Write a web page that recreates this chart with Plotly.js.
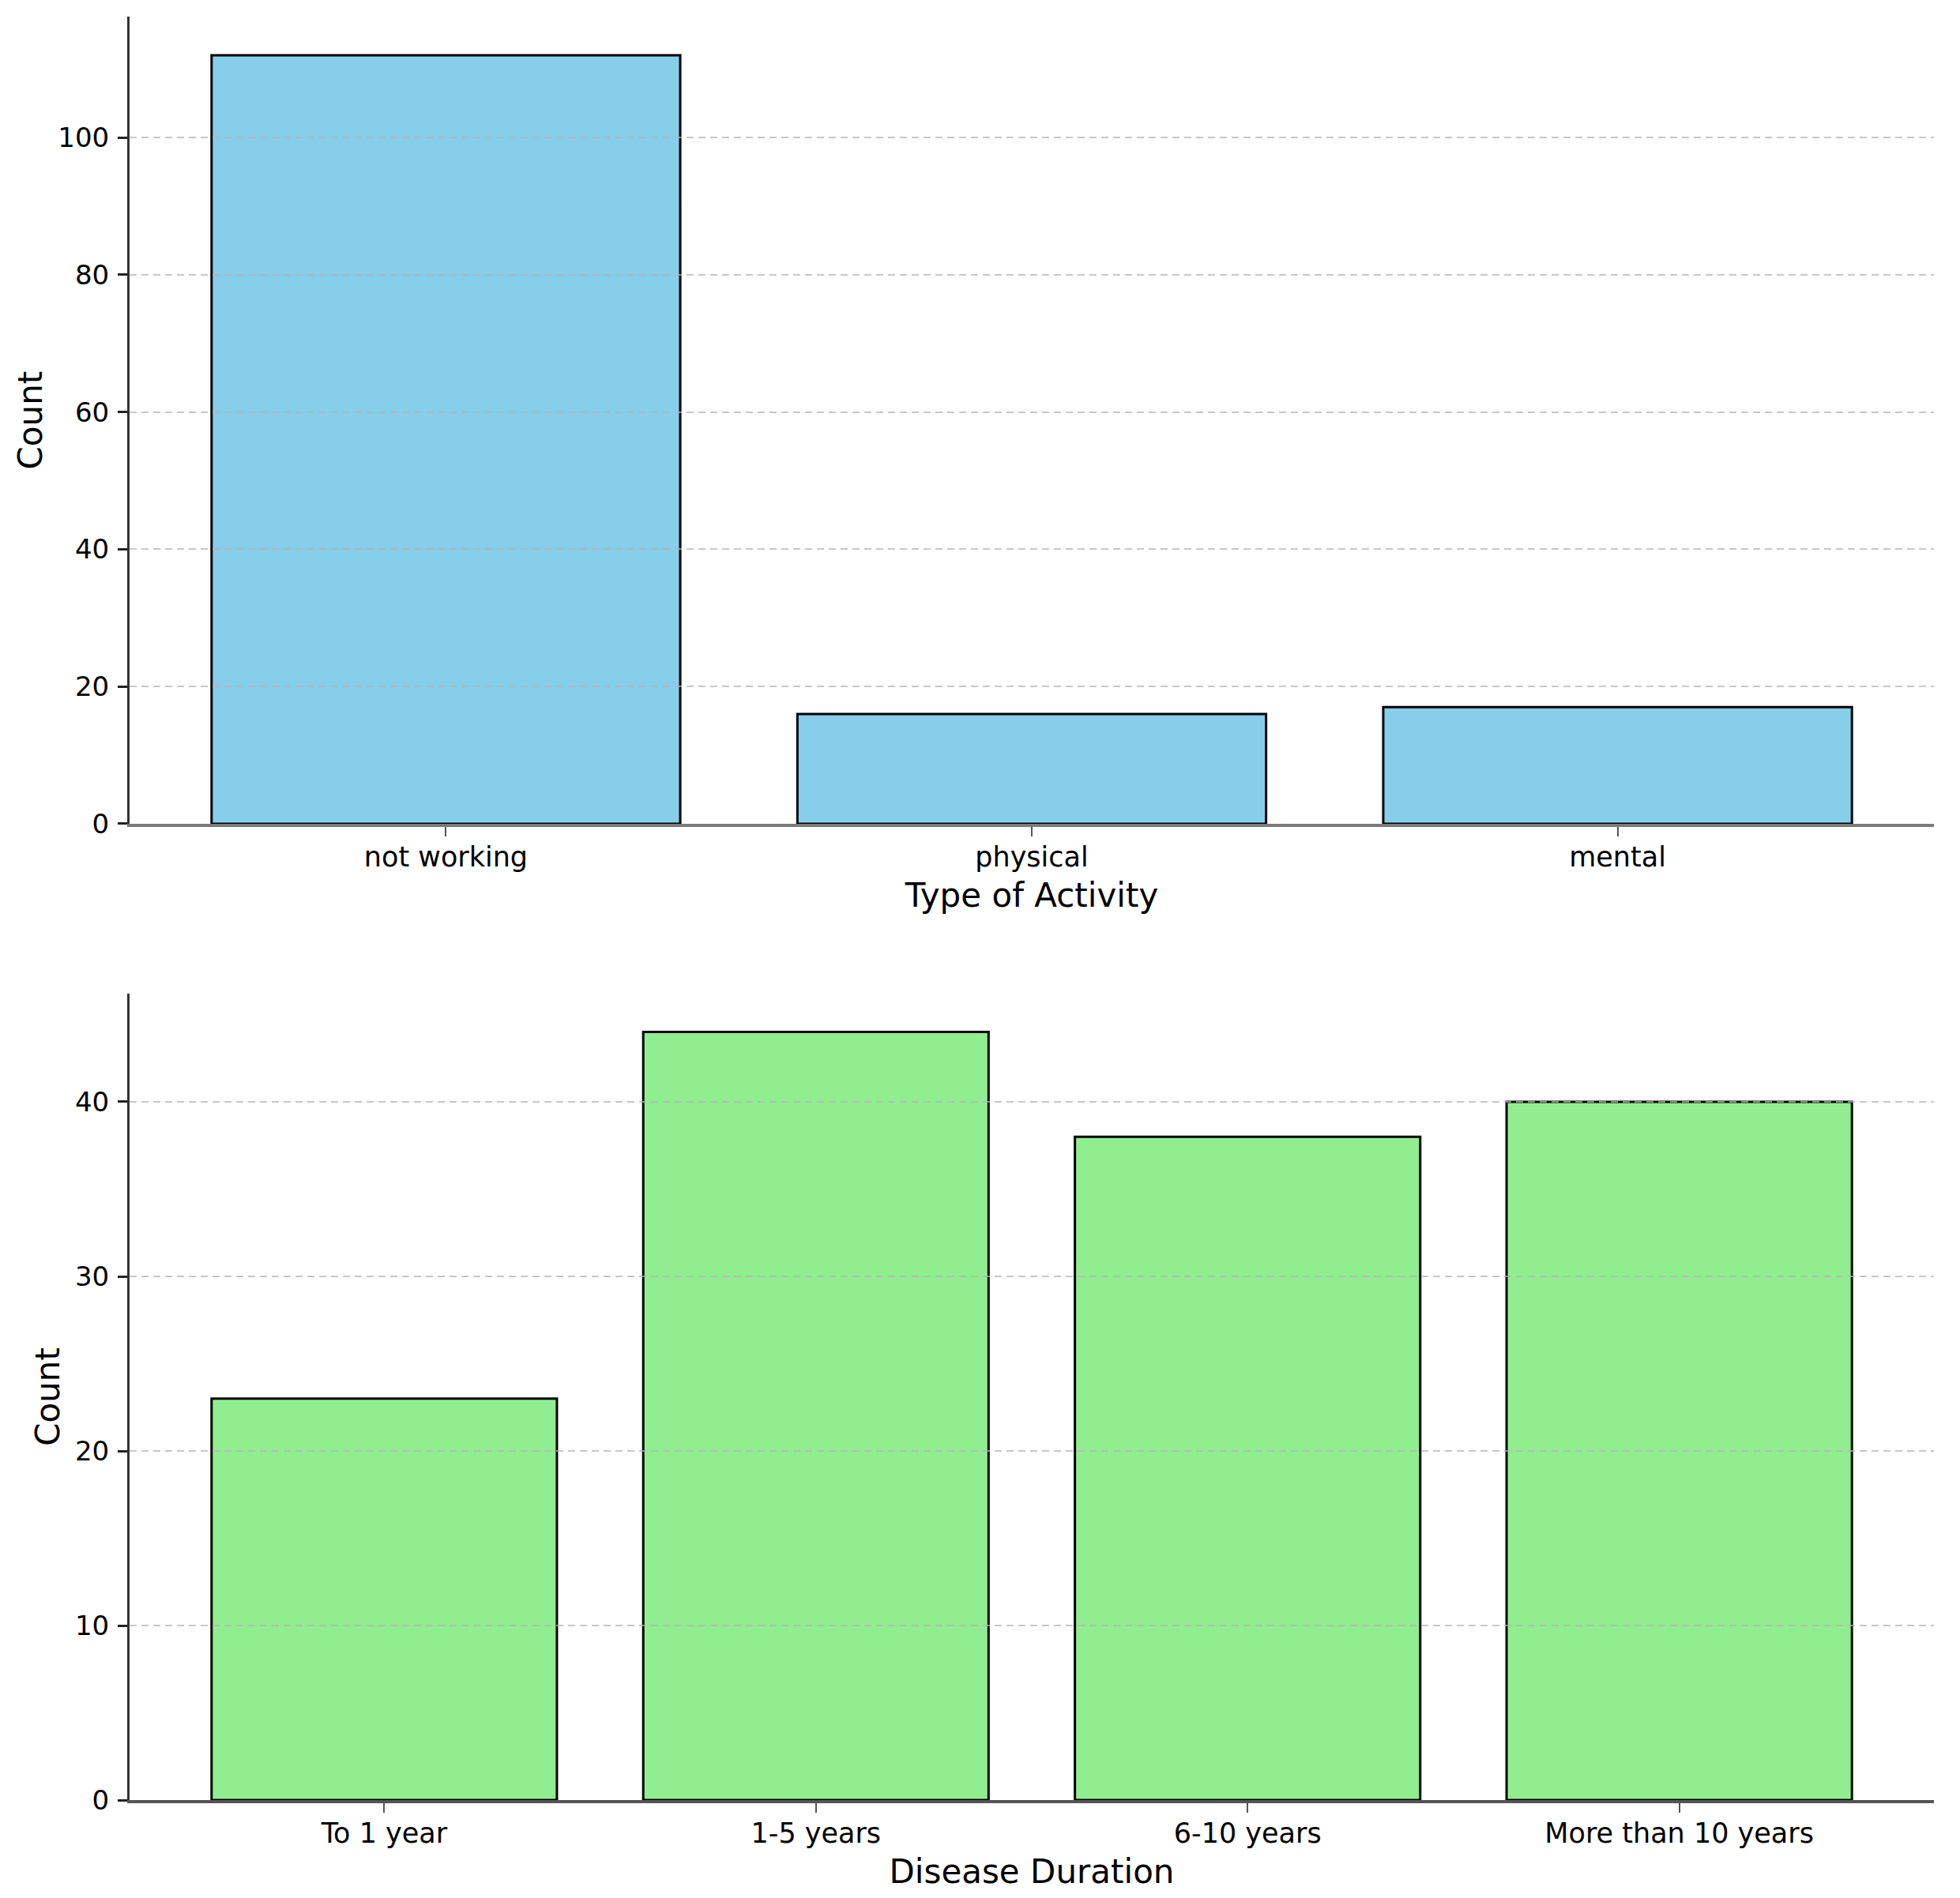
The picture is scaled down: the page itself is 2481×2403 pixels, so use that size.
<!DOCTYPE html>
<html>
<head>
<meta charset="utf-8">
<script src="https://cdn.plot.ly/plotly-3.0.1.min.js"></script>
<style>html,body{margin:0;padding:0;background:#fff;}#chart{width:2481px;height:2403px;}</style>
</head>
<body>
<div id="chart"></div>
<script>
// ---- data ----
const activityCategories = ["not working", "physical", "mental"];
const activityCounts = [112, 16, 17];
const durationCategories = ["To 1 year", "1-5 years", "6-10 years", "More than 10 years"];
const durationCounts = [23, 44, 38, 40];
const activityTicks = [0, 20, 40, 60, 80, 100];
const durationTicks = [0, 10, 20, 30, 40];

const FONT = "DejaVu Sans";
const xTickFont = {family: FONT, size: 35, color: "#000"};
const yTickFont = {family: FONT, size: 34, color: "#000"};
const titleFont = {family: FONT, size: 42, color: "#000"};

function maxRange(vals) { return Math.max(...vals) * 1.05; }
function catRange(n) { const span = (n - 1) + 0.8; return [-0.4 - 0.05 * span, (n - 1) + 0.4 + 0.05 * span]; }

const xDom = [0.0661, 0.9867];
const topDom = [0.5660, 0.9911];
const botDom = [0.0516, 0.4765];

const traces = [
  {type: "bar", x: activityCategories, y: activityCounts, xaxis: "x", yaxis: "y", width: 0.8,
   marker: {color: "#87CEEB", line: {color: "#000", width: 3}}, showlegend: false},
  {type: "bar", x: durationCategories, y: durationCounts, xaxis: "x2", yaxis: "y2", width: 0.8,
   marker: {color: "#90EE90", line: {color: "#000", width: 3}}, showlegend: false},
  {type: "scatter", x: [], y: [], xaxis: "x3", yaxis: "y3", showlegend: false, hoverinfo: "skip"},
  {type: "scatter", x: [], y: [], xaxis: "x4", yaxis: "y4", showlegend: false, hoverinfo: "skip"}
];

function xAxis(anchor, cats, title, lineColor) {
  return {domain: xDom, anchor: anchor, type: "category", range: catRange(cats.length),
    showgrid: false, zeroline: false, showline: true, linecolor: lineColor, linewidth: 4,
    ticks: "outside", ticklen: 12, tickwidth: 2, tickcolor: "#555", ticklabelstandoff: -4,
    tickfont: xTickFont, title: {text: title, font: titleFont, standoff: 16}, automargin: false};
}
function yAxis(anchor, dom, vals, ticks) {
  return {domain: dom, anchor: anchor, range: [0, maxRange(vals)], tickmode: "array", tickvals: ticks,
    showgrid: false, zeroline: false, showline: true, linecolor: "#333", linewidth: 3,
    ticks: "outside", ticklen: 12, tickwidth: 3, tickcolor: "#222", ticklabelstandoff: 4,
    tickfont: yTickFont, title: {text: "Count", font: titleFont, standoff: 7}, automargin: false};
}
function gridX(anchor, cats) {
  return {domain: xDom, anchor: anchor, range: catRange(cats.length), showgrid: false, zeroline: false,
    showline: false, showticklabels: false, ticks: ""};
}
function gridY(anchor, dom, vals, ticks) {
  return {domain: dom, anchor: anchor, range: [0, maxRange(vals)], tickmode: "array", tickvals: ticks.slice(1),
    showgrid: true, gridcolor: "rgba(180,180,180,0.75)", gridwidth: 2, griddash: "9px,6px",
    zeroline: false, showline: false, showticklabels: false, ticks: ""};
}

const layout = {
  width: 2481, height: 2403,
  margin: {l: 0, r: 0, t: 0, b: 0},
  paper_bgcolor: "#fff", plot_bgcolor: "rgba(0,0,0,0)",
  showlegend: false, bargap: 0.2,
  font: {family: FONT, color: "#000"},
  xaxis: xAxis("y", activityCategories, "Type of Activity", "#7a7a7a"),
  yaxis: yAxis("x", topDom, activityCounts, activityTicks),
  xaxis2: xAxis("y2", durationCategories, "Disease Duration", "#555"),
  yaxis2: yAxis("x2", botDom, durationCounts, durationTicks),
  xaxis3: gridX("y3", activityCategories),
  yaxis3: gridY("x3", topDom, activityCounts, activityTicks),
  xaxis4: gridX("y4", durationCategories),
  yaxis4: gridY("x4", botDom, durationCounts, durationTicks)
};

Plotly.newPlot("chart", traces, layout, {staticPlot: true, displayModeBar: false});
</script>
</body>
</html>
